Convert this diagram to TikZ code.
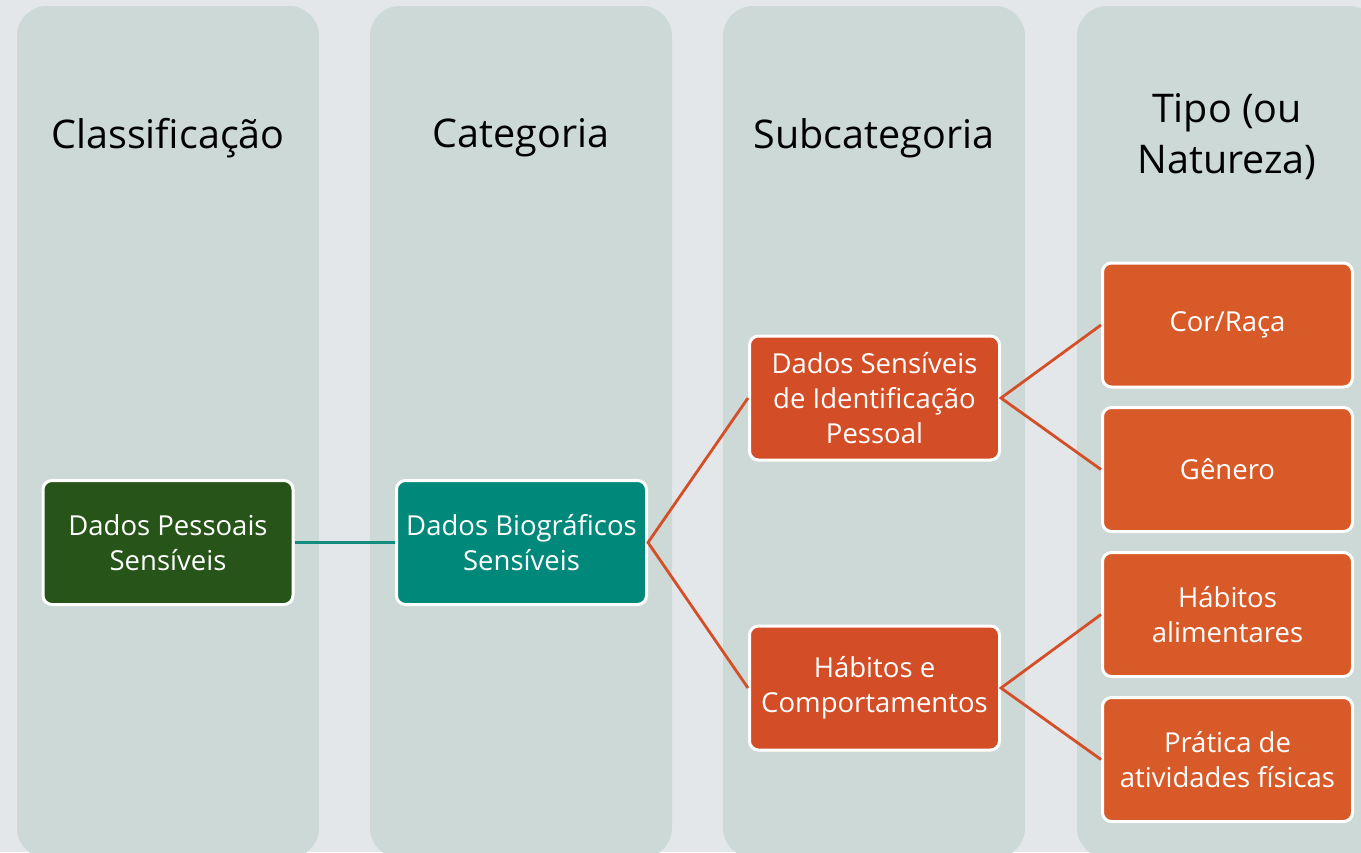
\documentclass[tikz,border=0pt]{standalone}
\usepackage{fontspec}
\setmainfont{Open Sans}
\usetikzlibrary{positioning}

\definecolor{backgr}{HTML}{E3E7E9}
\definecolor{colfill}{HTML}{CCD9D6}
\definecolor{darkgreen}{HTML}{275418}
\definecolor{tealbox}{HTML}{00897B}
\definecolor{subred}{HTML}{D34D27}
\definecolor{tipoorange}{HTML}{D95A29}
\definecolor{tealline}{HTML}{138D7E}

\tikzset{
  column/.style={fill=colfill, rounded corners=30pt},
  title/.style={font=\fontsize{39.5}{51}\selectfont, align=center, text=black},
  box/.style={draw=white, line width=3pt, rounded corners=9pt, text=white,
    minimum width=250pt, minimum height=124pt, align=center, inner sep=2pt,
    font=\fontsize{27.5}{35}\selectfont},
  link/.style={line width=2.8pt, subred!90!tipoorange}
}

\begin{document}
\begin{tikzpicture}[x=1pt, y=-1pt]

\useasboundingbox (0,0) rectangle (1361,852);
\fill[backgr] (0,0) rectangle (1361,852);

% columns
\begin{scope}
\clip (0,0) rectangle (1361,852);
\foreach \x in {17,370,723,1077}
{
	\fill[column] (\x,6) rectangle ++(302,852);
}
\end{scope}

% column titles
\node[title] (tclass) at (168,138) {Classificação};
\node[title] (tcat) at (521,138) {Categoria};
\node[title] (tsub) at (874,138) {Subcategoria};
\node[title] (ttipo) at (1227,137) {Tipo (ou\\Natureza)};

% boxes
\node[box, fill=darkgreen] (pessoais) at (168,542.5) {Dados Pessoais\\Sensíveis};
\node[box, fill=tealbox] (biograf) at (521.5,542.5) {Dados Biográficos\\Sensíveis};
\node[box, fill=subred] (ident) at (874.5,398) {Dados Sensíveis\\de Identificação\\Pessoal};
\node[box, fill=subred] (habitos) at (874.5,688) {Hábitos e\\Comportamentos};
\node[box, fill=tipoorange] (cor) at (1227.5,325) {Cor/Raça};
\node[box, fill=tipoorange] (genero) at (1227.5,469.5) {Gênero};
\node[box, fill=tipoorange] (alim) at (1227.5,614.5) {Hábitos\\alimentares};
\node[box, fill=tipoorange] (fisic) at (1227.5,759.5) {Prática de\\atividades físicas};

% connectors
\draw[line width=2.8pt, tealline] (pessoais.east) -- (biograf.west);
\draw[link] (ident.west) -- (biograf.east) -- (habitos.west);
\draw[link] (cor.west) -- (ident.east) -- (genero.west);
\draw[link] (alim.west) -- (habitos.east) -- (fisic.west);

\end{tikzpicture}
\end{document}
